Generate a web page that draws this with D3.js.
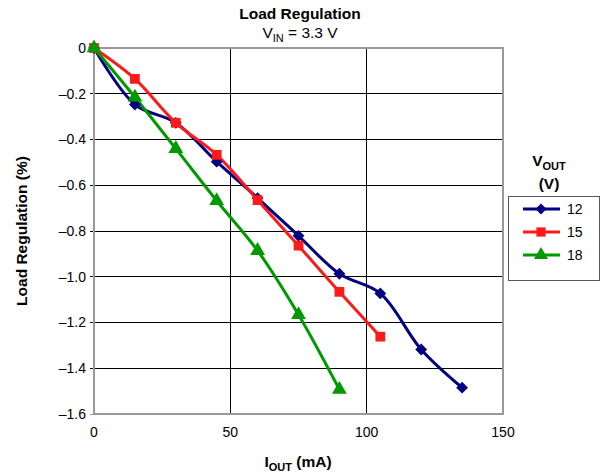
<!DOCTYPE html>
<html><head><meta charset="utf-8">
<script src="https://cdn.jsdelivr.net/npm/d3@7"></script>
<style>
body{margin:0;background:#fff;}
text{font-family:"Liberation Sans",Arial,sans-serif;fill:#000;}
</style></head>
<body>
<svg id="c" width="600" height="476"></svg>
<script>
const xTicks = [0, 50, 100, 150];
const yTicks = [0, -0.2, -0.4, -0.6, -0.8, -1.0, -1.2, -1.4, -1.6];
const seriesNames = ["12", "15", "18"];
const iout12 = [0, 15, 30, 45, 60, 75, 90, 105, 120, 135];
const reg12 = [0, -0.247, -0.327, -0.497, -0.656, -0.821, -0.987, -1.073, -1.318, -1.485];
const iout15 = [0, 15, 30, 45, 60, 75, 90, 105];
const reg15 = [0, -0.135, -0.327, -0.467, -0.665, -0.864, -1.066, -1.262];
const iout18 = [0, 15, 30, 45, 60, 75, 90];
const reg18 = [0, -0.215, -0.44, -0.668, -0.886, -1.166, -1.493];

const colors = ["#000080", "#ff1a1a", "#009a00"];
const shapes = [d3.symbolSquare, d3.symbolSquare, d3.symbolTriangle];
const rots = [45, 0, 0];
const sizes = [70, 95, 95];
const series = [
  {name: seriesNames[0], xs: iout12, ys: reg12},
  {name: seriesNames[1], xs: iout15, ys: reg15},
  {name: seriesNames[2], xs: iout18, ys: reg18}
];

const svg = d3.select("#c");
const L = 94, R = 503, T = 48, B = 414;
const x = d3.scaleLinear().domain([0, 150]).range([L, R]);
const y = d3.scaleLinear().domain([0, -1.6]).range([T, B]);
const fmt = v => v === 0 ? "0" : "\u2013" + Math.abs(v).toFixed(1);

svg.append("g").selectAll("line.h").data(yTicks.filter(v => v !== 0 && v !== -1.6)).join("line")
  .attr("x1", L - 4).attr("x2", R).attr("y1", d => y(d)).attr("y2", d => y(d))
  .attr("stroke", "#000").attr("stroke-width", 1).attr("shape-rendering", "crispEdges");
svg.append("g").selectAll("line.v").data(xTicks.filter(v => v !== 0 && v !== 150)).join("line")
  .attr("x1", d => x(d)).attr("x2", d => x(d)).attr("y1", T).attr("y2", B)
  .attr("stroke", "#000").attr("stroke-width", 1).attr("shape-rendering", "crispEdges");
svg.append("rect").attr("x", L).attr("y", T).attr("width", R - L).attr("height", B - T)
  .attr("fill", "none").attr("stroke", "#999").attr("stroke-width", 1.5).attr("shape-rendering", "crispEdges");
svg.append("g").selectAll("line").data([0, -1.6]).join("line")
  .attr("x1", L - 4).attr("x2", L).attr("y1", d => y(d)).attr("y2", d => y(d))
  .attr("stroke", "#999").attr("shape-rendering", "crispEdges");

svg.append("g").selectAll("text").data(yTicks).join("text")
  .attr("x", L - 8).attr("y", d => y(d)).attr("dy", "0.35em").attr("text-anchor", "end")
  .attr("font-size", 14).text(fmt);
svg.append("g").selectAll("text").data(xTicks).join("text")
  .attr("x", d => x(d)).attr("y", B + 23).attr("text-anchor", "middle")
  .attr("font-size", 14).text(d => d);

const line = d3.line().x(d => x(d[0])).y(d => y(d[1])).curve(d3.curveCatmullRom.alpha(0.5));
series.forEach((s, i) => {
  const pts = s.xs.map((v, j) => [v, s.ys[j]]);
  svg.append("path").datum(pts).attr("d", line).attr("fill", "none")
    .attr("stroke", colors[i]).attr("stroke-width", 3).attr("stroke-linejoin", "round");
});
series.forEach((s, i) => {
  const pts = s.xs.map((v, j) => [v, s.ys[j]]);
  svg.append("g").selectAll("path").data(pts).join("path")
    .attr("d", d3.symbol().type(shapes[i]).size(sizes[i]))
    .attr("transform", d => `translate(${x(d[0])},${y(d[1])}) rotate(${rots[i]})`)
    .attr("fill", colors[i]);
});

svg.append("text").attr("x", 300).attr("y", 19).attr("text-anchor", "middle")
  .attr("font-size", 15.5).attr("font-weight", "bold").text("Load Regulation");
const sub = svg.append("text").attr("x", 300).attr("y", 38).attr("text-anchor", "middle").attr("font-size", 15.5);
sub.append("tspan").text("V");
sub.append("tspan").attr("font-size", 11).attr("dy", 4).text("IN");
sub.append("tspan").attr("dy", -4).text(" = 3.3 V");

const xt = svg.append("text").attr("x", 298).attr("y", 467).attr("text-anchor", "middle")
  .attr("font-size", 15.5).attr("font-weight", "bold");
xt.append("tspan").text("I");
xt.append("tspan").attr("font-size", 11).attr("dy", 4).text("OUT");
xt.append("tspan").attr("dy", -4).text(" (mA)");

svg.append("text").attr("transform", "translate(27,231) rotate(-90)").attr("text-anchor", "middle")
  .attr("font-size", 15.5).attr("font-weight", "bold").text("Load Regulation (%)");

const lt = svg.append("text").attr("x", 549).attr("y", 166).attr("text-anchor", "middle")
  .attr("font-size", 15.5).attr("font-weight", "bold");
lt.append("tspan").text("V");
lt.append("tspan").attr("font-size", 11).attr("dy", 4).text("OUT");
svg.append("text").attr("x", 549).attr("y", 189).attr("text-anchor", "middle")
  .attr("font-size", 15.5).attr("font-weight", "bold").text("(V)");
svg.append("rect").attr("x", 508).attr("y", 196).attr("width", 91).attr("height", 84)
  .attr("fill", "#fff").attr("stroke", "#555").attr("stroke-width", 1).attr("shape-rendering", "crispEdges");
series.forEach((s, i) => {
  const ly = 209 + i * 23;
  svg.append("line").attr("x1", 523).attr("x2", 560).attr("y1", ly).attr("y2", ly)
    .attr("stroke", colors[i]).attr("stroke-width", 3);
  svg.append("path").attr("d", d3.symbol().type(shapes[i]).size(sizes[i] - 10))
    .attr("transform", `translate(541,${ly}) rotate(${rots[i]})`).attr("fill", colors[i]);
  svg.append("text").attr("x", 567).attr("y", ly).attr("dy", "0.35em")
    .attr("font-size", 14).text(s.name);
});
</script>
</body></html>
